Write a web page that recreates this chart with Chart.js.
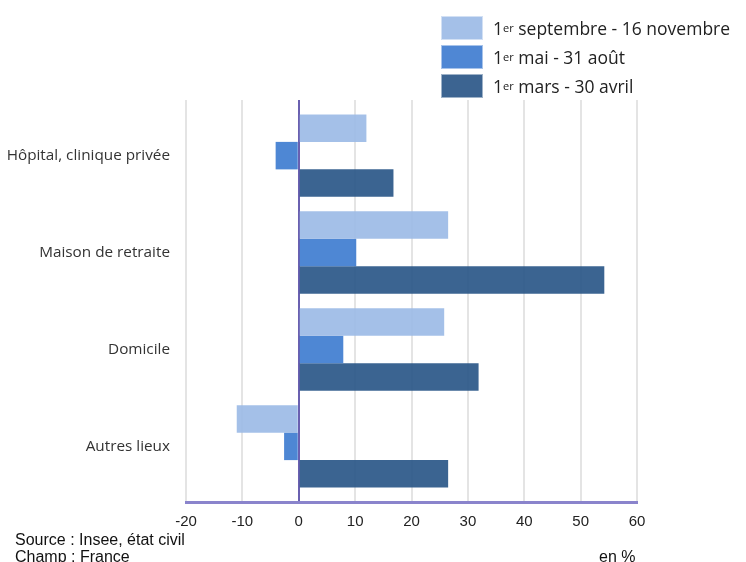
<!DOCTYPE html>
<html>
<head>
<meta charset="utf-8">
<script src="https://cdn.jsdelivr.net/npm/chart.js@4"></script>
<style>
  html, body { margin: 0; padding: 0; background: #fff; }
  #wrap { position: relative; width: 746px; height: 562px; overflow: hidden; }
  #chart { position: absolute; left: 0; top: 0; }
  .legend { position: absolute; left: 441px; top: 13px; font-family: "Open Sans", sans-serif; font-size: 17.5px; color: #222; }
  .legend .item { height: 29px; display: flex; align-items: center; white-space: pre; }
  .legend .box { width: 42px; height: 24px; margin-right: 10px; box-sizing: border-box; }
  .legend sup { font-size: 11px; vertical-align: 5px; line-height: 0; }
  .note { position: absolute; font-family: "Liberation Sans", Arial, sans-serif; font-size: 16px; color: #111; white-space: nowrap; }
</style>
</head>
<body>
<div id="wrap">
  <canvas id="chart" width="746" height="562"></canvas>
  <div class="legend" id="legend"></div>
  <div class="note" style="left:15px; top:531px;">Source : Insee, état civil</div>
  <div class="note" style="left:15px; top:548px;">Champ : France</div>
  <div class="note" style="left:599px; top:548px;">en %</div>
</div>
<script>
// Categories and series (variation in %)
const categories = ['Hôpital, clinique privée', 'Maison de retraite', 'Domicile', 'Autres lieux'];
const seriesNames = ['septembre - 16 novembre', 'mai - 31 août', 'mars - 30 avril'];
const septNov = [12, 26.5, 25.8, -11];
const maiAout = [-4.1, 10.2, 7.9, -2.6];
const marsAvril = [16.8, 54.2, 31.9, 26.5];
const xTicks = [-20, -10, 0, 10, 20, 30, 40, 50, 60];

const colors = ['rgba(154,185,229,0.9)', 'rgba(59,122,207,0.9)', 'rgba(38,83,133,0.9)'];
const solid = ['#a4c0e8', '#4f87d4', '#3c6491'];

function points(values) {
    return values.map(function(v, i) { return { x: v, y: i }; });
}

// HTML legend so that "1er" can keep its superscript
const legend = document.getElementById('legend');
seriesNames.forEach(function(name, i) {
    const item = document.createElement('div');
    item.className = 'item';
    item.innerHTML = '<span class="box" style="background:' + solid[i] + ';border:1px solid rgba(255,255,255,0.5)"></span>1<sup>er</sup> ' + name;
    legend.appendChild(item);
});

const ctx = document.getElementById('chart').getContext('2d');
new Chart(ctx, {
    type: 'bar',
    data: {
        datasets: [
            { label: '1er ' + seriesNames[0], data: points(septNov), backgroundColor: colors[0] },
            { label: '1er ' + seriesNames[1], data: points(maiAout), backgroundColor: colors[1] },
            { label: '1er ' + seriesNames[2], data: points(marsAvril), backgroundColor: colors[2] }
        ]
    },
    options: {
        indexAxis: 'y',
        responsive: false,
        animation: false,
        categoryPercentage: 0.851,
        barPercentage: 1,
        layout: { padding: { top: 100, right: 109, left: 0, bottom: 0 } },
        plugins: {
            legend: { display: false },
            tooltip: { enabled: false }
        },
        scales: {
            x: {
                type: 'linear',
                min: -20,
                max: 60,
                afterBuildTicks: function(scale) {
                    scale.ticks = xTicks.map(function(v) { return { value: v }; });
                },
                afterFit: function(scale) { scale.height = 60; },
                grid: {
                    drawTicks: false,
                    lineWidth: 2,
                    color: function(c) { return c.tick && c.tick.value === 0 ? '#6a60b0' : '#e4e4e4'; }
                },
                border: { color: '#8a84cc', width: 3 },
                ticks: {
                    padding: 11,
                    color: '#222',
                    font: { family: 'Liberation Sans', size: 15 }
                }
            },
            y: {
                type: 'linear',
                reverse: true,
                offset: false,
                bounds: 'data',
                min: -0.574,
                max: 3.574,
                afterBuildTicks: function(scale) {
                    scale.ticks = categories.map(function(c, i) { return { value: i }; });
                },
                afterFit: function(scale) { scale.width = 186; },
                grid: { display: false, drawTicks: false, offset: false },
                border: { display: false },
                ticks: {
                    padding: 16,
                    color: '#333',
                    font: { family: 'Open Sans', size: 15.3 },
                    callback: function(value) { return categories[value]; }
                }
            }
        }
    }
});
</script>
</body>
</html>
